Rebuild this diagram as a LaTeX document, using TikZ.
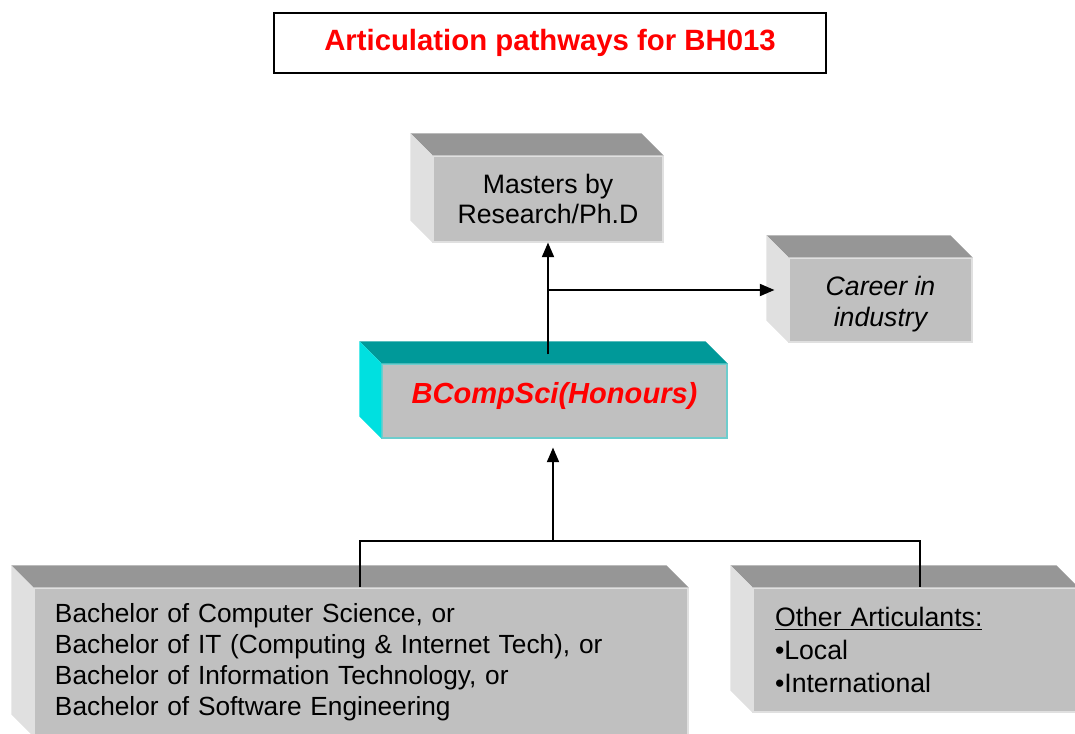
\documentclass[tikz,border=0pt]{standalone}
\usepackage{fontspec}
\setmainfont{Liberation Sans}
\usetikzlibrary{arrows.meta,calc}
\definecolor{facegray}{RGB}{192,192,192}
\definecolor{topgray}{RGB}{150,150,150}
\definecolor{sidegray}{RGB}{224,224,224}
\definecolor{topteal}{RGB}{0,153,153}
\definecolor{sidecyan}{RGB}{0,224,224}
\definecolor{edgecyan}{RGB}{110,205,205}

\begin{document}
\begin{tikzpicture}[
  x=0.75pt, y=-0.75pt,
  box/.style={rectangle, fill=facegray, draw=black!12, line width=0.8pt, inner sep=0pt, align=center},
  link/.style={line width=1.5pt, -{Triangle[length=11pt,width=9pt]}},
  font=\fontsize{20}{23}\selectfont
]
\useasboundingbox (0,0) rectangle (1075,734);

\node[draw, line width=1.2pt, minimum width=414pt, minimum height=45pt, text=red, font=\fontsize{22}{25}\selectfont\bfseries] (title) at (550,43) {Articulation pathways for BH013};

\node[box, minimum width=172.5pt, minimum height=64.5pt] (masters) at (548,199) {Masters by\\Research/Ph.D};
\node[box, minimum width=137.25pt, minimum height=63pt, font=\fontsize{20}{23}\selectfont\itshape] (career) at (880.5,300) {\raisebox{-3pt}[\height][\depth]{Career in}\\\raisebox{-3pt}[\height][\depth]{industry}};
\node[box, draw=edgecyan, minimum width=258.75pt, minimum height=55.5pt, text=red, font=\fontsize{21.8}{25}\selectfont\bfseries\itshape] (honours) at (554.5,401) {\raisebox{3.75pt}[\height][\depth]{BCompSci(Honours)}};
\node[box, inner xsep=15.75pt, text width=459pt, minimum height=111pt, align=left, font=\fontsize{19.7}{23.2}\selectfont] (bachelor) at (361,662) {Bachelor of Computer Science, or\\Bachelor of IT (Computing \& Internet Tech), or\\Bachelor of Information Technology, or\\Bachelor of Software Engineering};
\node[box, inner xsep=16.5pt, text width=210.75pt, minimum height=93pt, align=left, font=\fontsize{20}{24.5}\selectfont] (other) at (915.5,650) {\underline{Other Articulants:}\\\textbullet Local\\\textbullet International};

\foreach \n/\tc/\sc in {masters/topgray/sidegray, career/topgray/sidegray, honours/topteal/sidecyan, bachelor/topgray/sidegray, other/topgray/sidegray}{
  \fill[\tc] (\n.north west) -- ++(-22,-22) -- ($(\n.north east)+(-22,-22)$) -- (\n.north east) -- cycle;
  \fill[\sc] (\n.north west) -- ++(-22,-22) -- ($(\n.south west)+(-22,-22)$) -- (\n.south west) -- cycle;
}

\coordinate (split) at (548,290);
\coordinate (join) at (553,541);
\coordinate (lt) at (360,541);
\coordinate (rt) at (920,541);

\draw[link] ([yshift=6.75pt]split |- honours.north) -- (masters.south);
\draw[link] (split) -- ([xshift=-10.5pt]split -| career.west);
\draw[link] (join) -- ([yshift=-6.75pt]join |- honours.south);
\draw[line width=1.5pt] (lt |- bachelor.north) -- (lt) -- (rt) -- (rt |- other.north);
\end{tikzpicture}
\end{document}
